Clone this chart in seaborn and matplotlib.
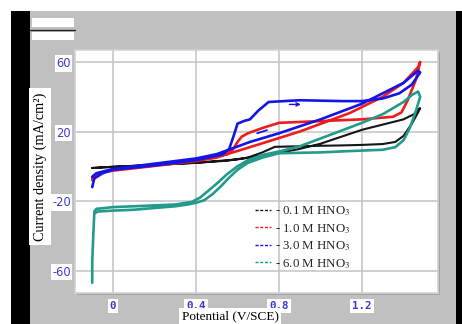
import matplotlib
matplotlib.use("Agg")
import matplotlib.pyplot as plt
from matplotlib.patches import Rectangle
from matplotlib.lines import Line2D
import numpy as np
import pandas as pd
import seaborn as sns

# ---- cyclic polarisation loops (forward scan followed by reverse scan) ----
E_01 = [-0.10, -0.05, 0.00, 0.20, 0.40, 0.55, 0.65, 0.72, 0.78, 0.90, 1.00, 1.10, 1.20, 1.30, 1.36, 1.40, 1.44, 1.47, 1.48,
        1.45, 1.40, 1.30, 1.20, 1.10, 1.00, 0.90, 0.82, 0.70, 0.60, 0.40, 0.20, 0.00, -0.10]
j_01 = [-1.0, -0.6, -0.3, 0.8, 2.0, 3.2, 5.0, 8.0, 11.2, 11.5, 11.8, 12.0, 12.3, 12.8, 14.0, 17.5, 24.5, 31.0, 33.5,
        30.0, 27.0, 24.0, 21.0, 17.0, 13.0, 10.0, 8.2, 5.8, 4.0, 2.0, 0.8, -0.3, -1.0]

E_10 = [-0.10, -0.09, -0.07, 0.00, 0.20, 0.40, 0.50, 0.55, 0.58, 0.60, 0.62, 0.65, 0.72, 0.80, 1.00, 1.20, 1.35, 1.39, 1.42, 1.46, 1.48,
        1.47, 1.40, 1.30, 1.14, 0.90, 0.66, 0.55, 0.40, 0.20, 0.00, -0.08, -0.10]
j_10 = [-8.0, -5.5, -4.0, -2.5, 0.2, 3.0, 5.0, 7.0, 10.0, 14.0, 17.0, 19.0, 22.0, 25.0, 26.0, 27.0, 28.5, 31.0, 38.0, 50.0, 60.0,
        57.0, 48.0, 40.0, 30.6, 20.0, 11.0, 7.0, 4.0, 1.0, -2.0, -4.5, -6.5]

E_30 = [-0.10, -0.09, -0.05, 0.00, 0.20, 0.40, 0.46, 0.53, 0.56, 0.58, 0.60, 0.63, 0.66, 0.70, 0.75, 0.90, 1.10, 1.20, 1.30, 1.38, 1.44, 1.48,
        1.47, 1.40, 1.20, 1.00, 0.80, 0.66, 0.50, 0.40, 0.20, 0.00, -0.08, -0.10]
j_30 = [-12.0, -7.0, -4.0, -2.0, 0.5, 3.5, 5.0, 7.0, 10.0, 17.0, 24.5, 26.0, 27.0, 32.0, 37.0, 38.0, 37.5, 37.5, 39.0, 42.0, 47.0, 54.0,
        55.0, 48.0, 36.0, 27.0, 19.0, 14.0, 7.0, 4.5, 1.5, -1.5, -4.0, -6.0]

E_60 = [-0.100, -0.100, -0.095, -0.090, -0.070, 0.00, 0.10, 0.20, 0.30, 0.36, 0.40, 0.44, 0.48, 0.52, 0.56, 0.60, 0.65, 0.72, 0.80, 1.00, 1.15, 1.30, 1.36, 1.40, 1.43, 1.46, 1.48,
        1.47, 1.44, 1.40, 1.30, 1.20, 1.10, 1.00, 0.90, 0.80, 0.72, 0.65, 0.60, 0.55, 0.50, 0.46, 0.42, 0.38, 0.30, 0.20, 0.10, 0.00, -0.08, -0.09]
j_60 = [-67.0, -55.0, -40.0, -27.0, -26.0, -25.5, -25.0, -24.0, -23.0, -22.0, -21.0, -19.5, -16.0, -11.5, -6.5, -2.0, 2.0, 5.0, 7.5, 8.0, 8.8, 9.5, 11.0, 15.0, 22.0, 32.0, 40.0,
        43.0, 41.0, 37.0, 30.0, 25.0, 20.5, 16.0, 11.5, 8.5, 6.5, 3.5, 0.0, -4.5, -10.0, -14.0, -18.0, -20.5, -22.0, -22.5, -23.0, -23.5, -24.5, -26.0]

series_names = ["- 0.1 M HNO$_3$", "- 1.0 M HNO$_3$", "- 3.0 M HNO$_3$", "- 6.0 M HNO$_3$"]
series_colors = ["#161616", "#ee1c1c", "#1414e6", "#229a8c"]
series_E = [E_01, E_10, E_30, E_60]
series_j = [j_01, j_10, j_30, j_60]

x_ticks = [0.0, 0.4, 0.8, 1.2]
x_ticklabels = ["0", "0.4", "0.8", "1.2"]
y_ticks = [60, 20, -20, -60]
y_ticklabels = ["60", "20", "-20", "-60"]

# scan-direction markers on the 3.0 M loop
fwd_arrow = [(0.85, 35.6), (0.905, 35.6)]
rev_dash = [(0.695, 19.0), (0.742, 20.8)]

frames = []
for name, E, j in zip(series_names, series_E, series_j):
    frames.append(pd.DataFrame({"E": E, "j": j, "series": name, "order": np.arange(len(E))}))
df = pd.concat(frames, ignore_index=True)

sns.set_style("white")
plt.rcParams["font.family"] = ["Liberation Serif", "DejaVu Serif"]
plt.rcParams["mathtext.fontset"] = "stix"

W, H = 462, 324
fig = plt.figure(figsize=(W / 100, H / 100), dpi=100, facecolor="white")

def px_rect(x0, y0, x1, y1, **kw):
    fig.patches.append(Rectangle((x0 / W, 1 - y1 / H), (x1 - x0) / W, (y1 - y0) / H,
                                 transform=fig.transFigure, figure=fig, **kw))

# panel background and dark side bands
px_rect(30, 11, 456, 324, facecolor="#c0c0c0", edgecolor="none", zorder=0)
px_rect(11, 11, 30, 324, facecolor="black", edgecolor="none", zorder=0)
px_rect(456, 11, 462, 324, facecolor="black", edgecolor="none", zorder=0)
# small boxes in the top-left corner
px_rect(32, 18, 74, 27, facecolor="white", edgecolor="none", zorder=1)
px_rect(32, 32, 74, 40, facecolor="white", edgecolor="none", zorder=1)
fig.lines.append(Line2D([30 / W, 75 / W], [1 - 29.5 / H, 1 - 29.5 / H], transform=fig.transFigure,
                        color="#222222", lw=1.0, figure=fig))
# soft shadow under the plotting area
px_rect(77, 52, 440, 295, facecolor="#a4a4a4", edgecolor="none", zorder=1)

ax = fig.add_axes([75 / W, 1 - 293 / H, 363 / W, 243 / H])
ax.set_facecolor("white")
ax.set_zorder(2)

sns.lineplot(data=df, x="E", y="j", hue="series", units="series", sort=False, estimator=None,
             palette=dict(zip(series_names, series_colors)), linewidth=1.9, ax=ax, legend=True)
for ln, c in zip(ax.lines, series_colors):
    if c == "#161616":
        ln.set_linewidth(1.5)

ax.annotate("", xy=fwd_arrow[1], xytext=fwd_arrow[0],
            arrowprops=dict(arrowstyle="->", color="#1414e6", lw=1.0, shrinkA=0, shrinkB=0,
                            mutation_scale=6))
ax.plot([rev_dash[0][0], rev_dash[1][0]], [rev_dash[0][1], rev_dash[1][1]], color="#1414e6", lw=1.3)

ax.set_xlim(-0.183, 1.566)
ax.set_ylim(-72.9, 66.9)
ax.set_xticks(x_ticks)
ax.set_yticks(y_ticks)
ax.grid(True, color="#c4c4c4", lw=1.1)
ax.set_axisbelow(True)
for s in ax.spines.values():
    s.set_color("#d2d2d2")
    s.set_linewidth(1.2)
ax.tick_params(length=0)

ax.set_xticklabels(x_ticklabels, family="DejaVu Sans Mono", fontsize=7.8, fontweight="bold",
                   color="#3a3ad6")
ax.set_yticklabels(y_ticklabels, family="DejaVu Sans", fontsize=8.3, color="#3a3ad6")
for t in ax.get_xticklabels():
    t.set_bbox(dict(facecolor="white", edgecolor="none", pad=1.5))
for t in ax.get_yticklabels():
    t.set_bbox(dict(facecolor="white", edgecolor="none", pad=1.2))
ax.tick_params(axis="x", pad=6)
ax.tick_params(axis="y", pad=3)

ax.set_xlabel("Potential (V/SCE)", fontsize=9.5, color="black",
              bbox=dict(facecolor="white", edgecolor="none", pad=1.5))
ax.xaxis.set_label_coords(0.427, -0.096)
ax.xaxis.label.set_va("center")
ax.set_ylabel("Current density (mA/cm²)", fontsize=10.3, color="black",
              bbox=dict(facecolor="white", edgecolor="none", pad=3))
ax.yaxis.set_label_coords(-0.097, 0.52)
ax.yaxis.label.set_va("center")

handles = [Line2D([], [], color=c, lw=1.0, linestyle=(0, (2.2, 1.2))) for c in series_colors]
leg = ax.legend(handles, series_names, loc="lower left", bbox_to_anchor=(0.47, 0.055),
                frameon=False, fontsize=9.3, handlelength=1.3, handletextpad=0.3,
                labelspacing=0.28, borderpad=0.2)

fig.savefig("out.png", dpi=100, facecolor="white")
